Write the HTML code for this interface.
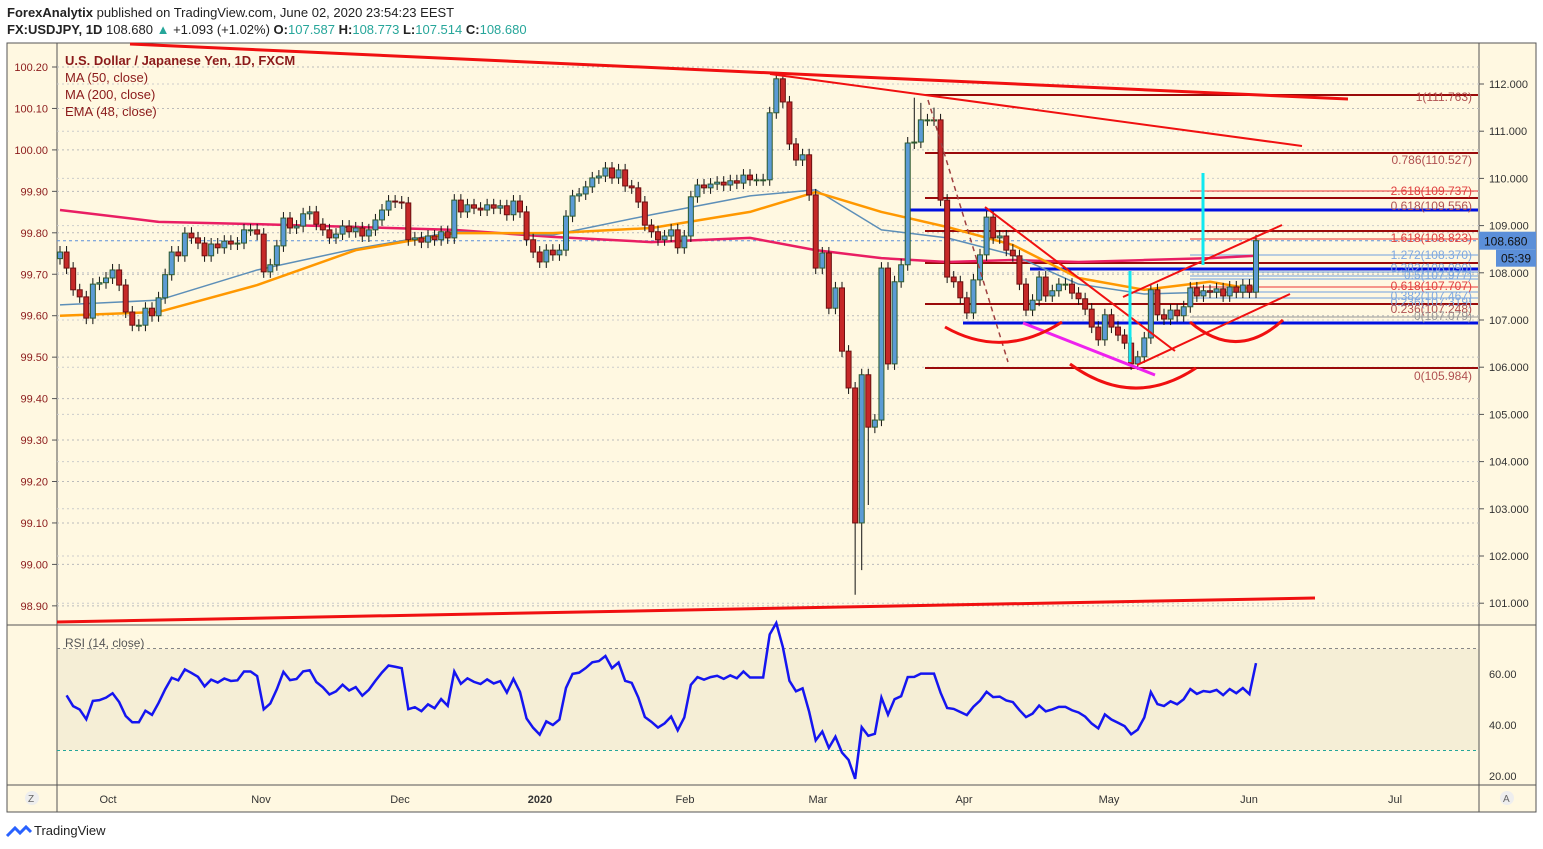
<!DOCTYPE html>
<html><head><meta charset="utf-8">
<style>
html,body{margin:0;padding:0;background:#fff;width:1543px;height:849px;overflow:hidden;font-family:"Liberation Sans",sans-serif;}
svg text{font-family:"Liberation Sans",sans-serif;}
</style></head>
<body>
<svg id="chart" width="1543" height="849" xmlns="http://www.w3.org/2000/svg">
<g>
<text x="7" y="17" font-size="13" fill="#222"><tspan font-weight="bold">ForexAnalytix</tspan> published on TradingView.com, June 02, 2020 23:54:23 EEST</text>
<text x="7" y="34" font-size="13" fill="#222"><tspan font-weight="bold">FX:USDJPY, 1D</tspan> 108.680 <tspan fill="#26a69a">▲</tspan> +1.093 (+1.02%) <tspan font-weight="bold">O:</tspan><tspan fill="#26a69a">107.587</tspan> <tspan font-weight="bold">H:</tspan><tspan fill="#26a69a">108.773</tspan> <tspan font-weight="bold">L:</tspan><tspan fill="#26a69a">107.514</tspan> <tspan font-weight="bold">C:</tspan><tspan fill="#26a69a">108.680</tspan></text>
</g>
<rect x="7" y="43" width="1529" height="769" fill="#fff8e1" stroke="#555" stroke-width="1"/>
<rect x="57" y="649" width="1422" height="101" fill="#f5eed6"/>
<line x1="57" y1="43" x2="57" y2="812" stroke="#555"/>
<line x1="1479" y1="43" x2="1479" y2="812" stroke="#555"/>
<line x1="7" y1="625" x2="1536" y2="625" stroke="#555"/>
<line x1="7" y1="785" x2="1536" y2="785" stroke="#555"/>
<g id="grid"></g>
<g id="annot-back"></g>
<g id="mas"></g>
<g id="candles"></g>
<g id="annot"></g>
<g id="axes"></g>
<g id="rsi"></g>
<g font-size="13" fill="#8b1a1a">
<text x="65" y="65" font-weight="bold">U.S. Dollar / Japanese Yen, 1D, FXCM</text>
<text x="65" y="82">MA (50, close)</text>
<text x="65" y="99">MA (200, close)</text>
<text x="65" y="116">EMA (48, close)</text>
<text x="65" y="647" font-size="12" fill="#555">RSI (14, close)</text>
</g>
<g>
<path d="M7 836 l8 -8 l5 5 l6 -6 l5 5" fill="none" stroke="#2962ff" stroke-width="3"/>
<text x="34" y="835" font-size="13" fill="#222">TradingView</text>
<circle cx="32" cy="798" r="7" fill="#eee"/><text x="28" y="802" font-size="10" fill="#666">Z</text>
<circle cx="1507" cy="798" r="7" fill="#eee"/><text x="1503" y="802" font-size="10" fill="#666">A</text>
</g>
</svg>
<script>
const closes=[108.44,108.10,107.64,107.49,107.04,107.76,107.79,107.89,108.06,107.74,107.17,106.89,106.89,107.25,107.09,107.47,107.96,108.44,108.36,108.84,108.74,108.63,108.36,108.61,108.53,108.67,108.61,108.63,108.91,108.91,108.82,
108.02,108.17,108.57,109.16,108.95,108.99,109.25,109.29,109.03,108.91,108.74,108.82,108.99,108.87,108.95,108.78,108.91,109.12,109.33,109.52,109.50,
109.48,108.70,108.74,108.65,108.78,108.70,108.87,108.74,109.54,109.29,109.44,109.37,109.33,109.44,109.37,109.42,109.23,109.52,109.29,108.70,108.44,
108.23,108.48,108.38,108.48,109.20,109.63,109.67,109.82,110.01,110.05,110.22,110.01,110.18,109.84,109.80,109.50,109.01,108.87,108.70,108.78,108.91,108.53,
108.78,109.61,109.86,109.80,109.88,109.92,109.86,109.95,109.90,110.07,109.97,109.97,109.97,111.39,112.11,111.62,110.73,110.39,110.50,109.65,108.10,
108.42,107.25,107.68,106.34,105.56,102.70,105.84,104.73,104.88,108.10,106.07,107.81,108.17,110.75,110.77,111.24,111.24,111.24,
109.54,107.91,107.81,107.47,107.15,107.85,108.38,109.18,108.74,108.78,108.48,108.36,107.76,107.21,107.42,107.91,107.51,107.62,107.76,107.76,107.57,107.45,107.23,106.85,106.58,107.11,106.85,106.68,106.51,106.07,106.22,106.62,107.64,107.11,107.02,107.21,107.09,107.28,107.68,107.51,107.62,107.59,107.66,107.51,107.70,107.59,107.74,107.59,108.68];
const firstOpen=108.30;
const wickIdx=[109,121,122,123,130,131,133];
const wickLow=[null,101.18,101.7,103.08,null,null,null];
const wickHigh=[112.23,null,null,null,111.71,111.6,111.5];
const maIdx=[0,15,30,45,60,75,90,105,115,125,135,145,155,165,175,182];
const sma50=[107.32,107.42,108.06,108.51,108.87,108.80,109.23,109.63,109.76,108.91,108.74,108.38,107.76,107.55,107.59,107.59];
const ema48=[107.09,107.17,107.74,108.48,108.84,108.84,108.95,109.29,109.71,109.29,108.97,108.59,107.89,107.64,107.81,107.64];
const ma200=[109.33,109.08,109.03,108.97,108.91,108.76,108.65,108.74,108.48,108.31,108.23,108.27,108.23,108.27,108.31,108.36];
const rightTicks=[112,111,110,109,108,107,106,105,104,103,102,101];
const leftTicks=["100.20","100.10","100.00","99.90","99.80","99.70","99.60","99.50","99.40","99.30","99.20","99.10","99.00","98.90"];
const monthLabels=["Oct","Nov","Dec","2020","Feb","Mar","Apr","May","Jun","Jul"];
const monthX=[108,261,400,540,685,818,964,1109,1249,1395];
const rsiTicks=[60,40,20];

const NS="http://www.w3.org/2000/svg";
function mk(tag,attrs,parent){const e=document.createElementNS(NS,tag);for(const k in attrs)e.setAttribute(k,attrs[k]);parent.appendChild(e);return e;}
const yP=p=>84+(112-p)*47.2;
const N=closes.length;
const step=(1256-60)/(N-1);
const xI=i=>60+i*step;
const yR=v=>674+(60-v)*2.55;

const grid=document.getElementById('grid');
const axes=document.getElementById('axes');
leftTicks.forEach((t,k)=>{const y=67+k*41.45;
 const g=mk('line',{x1:57,x2:1479,y1:y,y2:y,stroke:'#bbb','stroke-dasharray':'2,3'},grid);
 
 const tx=mk('text',{x:48,y:y+4,'font-size':11,fill:'#8b1a1a','text-anchor':'end'},axes);tx.textContent=t;
 
 mk('line',{x1:52,x2:57,y1:y,y2:y,stroke:'#555'},axes);
});
rightTicks.forEach(t=>{const y=yP(t);
 const g=mk('line',{x1:57,x2:1479,y1:y,y2:y,stroke:'#ccc','stroke-dasharray':'2,3'},grid);
 
 const tx=mk('text',{x:1489,y:y+4,'font-size':11,fill:'#333'},axes);tx.textContent=t.toFixed(3);
 
 mk('line',{x1:1479,x2:1484,y1:y,y2:y,stroke:'#555'},axes);
});
monthLabels.forEach((m,k)=>{const tx=mk('text',{x:monthX[k],y:803,'font-size':11,fill:'#333','text-anchor':'middle','font-weight':m==='2020'?'bold':'normal'},axes);tx.textContent=m;
 });
rsiTicks.forEach(t=>{const tx=mk('text',{x:1489,y:yR(t)+4,'font-size':11,fill:'#333'},axes);tx.textContent=t.toFixed(2);
 });
const lastY=yP(closes[N-1]);
mk('line',{x1:57,x2:1479,y1:lastY,y2:lastY,stroke:'#5b8fd9','stroke-dasharray':'3,3','stroke-width':1},grid);
const tag=mk('rect',{x:1479,y:lastY-9,width:57,height:18,fill:'#5b8fd9'},axes);

const tt=mk('text',{x:1484,y:lastY+5,'font-size':12,fill:'#111'},axes);tt.textContent=closes[N-1].toFixed(3);
mk('rect',{x:1496,y:lastY+9,width:40,height:17,fill:'#5b8fd9'},axes);
const ct=mk('text',{x:1501,y:lastY+22,'font-size':12,fill:'#111'},axes);ct.textContent='05:39';

const an=document.getElementById('annot');
const ab=document.getElementById('annot-back');
function ln(x1,y1,x2,y2,c,w,name,parent,dash){const l=mk('line',{x1,y1,x2,y2,stroke:c,'stroke-width':w},parent||an);if(dash)l.setAttribute('stroke-dasharray',dash);
 return l;}
const DR='#9a0a0a';
[[95,'fib-level-1'],[153,'fib-level-0786'],[198,'fib-level-0618'],[231,'fib-level-a'],[263,'fib-level-b'],[304,'fib-level-c'],[368,'fib-level-0']].forEach(a=>ln(925,a[0],1478,a[0],DR,2,a[1],ab));
[[191,'#e33'],[239,'#e33'],[255,'#6fa0e0'],[272,'#6fa0e0'],[276,'#6fa0e0'],[279,'#6fa0e0'],[287,'#e33'],[292,'#6fa0e0'],[298,'#6fa0e0'],[317,'#999']].forEach(a=>ln(1190,a[0],1478,a[0],a[1],1,'fib-thin-level',ab));
ln(910,210,1478,210,'#0010e0',3,'resistance-blue-line',ab);
ln(1030,269,1478,269,'#0010e0',3,'neckline-blue-line',ab);
ln(963,323,1478,323,'#0010e0',3,'support-blue-line',ab);
ln(130,44,1348,99,'#f01010',3,'upper-trendline');
ln(770,74,1302,146,'#f01010',2,'descending-trendline');
ln(57,622,1315,598,'#f01010',3,'lower-trendline');
ln(928,100,1008,362,'#a04040',1.5,'dashed-trendline',an,'5,4');
ln(985,207,1175,351,'#f01010',2,'wedge-upper-line');
ln(1123,297,1282,225,'#f01010',2,'channel-upper-line');
ln(1137,365,1290,294,'#f01010',2,'channel-lower-line');
ln(1023,323,1155,375,'#ee22ee',3,'magenta-line');
ln(1203,173,1203,265,'#10e8f0',3,'cyan-target-line');
ln(1130,271,1130,362,'#10e8f0',3,'cyan-measure-line');
[['M945 327 Q1003 360 1062 322','left-shoulder-arc'],['M1070 364 Q1133 410 1196 368','head-arc'],['M1190 322 Q1237 362 1283 320','right-shoulder-arc']].forEach(a=>{
 const p=mk('path',{d:a[0],fill:'none',stroke:'#f01010','stroke-width':3},an);});
[['1(111.763)',101,'#b05050'],['0.786(110.527)',164,'#b05050'],['2.618(109.737)',195,'#e04040'],['0.618(109.556)',210,'#b05050'],['1.618(108.823)',242,'#e04040'],['1.272(108.370)',259,'#7fa8e0'],['0.382(108.090)',272,'#7fa8e0'],['0.5(107.977)',279,'#7fa8e0'],['0.618(107.707)',290,'#e04040'],['0.382(107.467)',300,'#7fa8e0'],['0.236(107.319)',306,'#7fa8e0'],['0.236(107.248)',313,'#b05050'],['0(107.079)',320,'#999'],['0(105.984)',380,'#b05050']].forEach(a=>{
 const t=mk('text',{x:1472,y:a[1],'font-size':12,fill:a[2],'text-anchor':'end'},an);t.textContent=a[0];
 });

const mas=document.getElementById('mas');
function maLine(vals,col,w,name){const pts=maIdx.map((ix,k)=>xI(ix)+','+yP(vals[k])).join(' ');
 const p=mk('polyline',{points:pts,fill:'none',stroke:col,'stroke-width':w,'stroke-linejoin':'round'},mas);
 }
maLine(ma200,'#e91e63',2.5,'ma-200-line');
maLine(sma50,'#5d8fb8',1.5,'ma-50-line');
maLine(ema48,'#ff9800',2.5,'ema-48-line');

const cg=document.getElementById('candles');
closes.forEach((c,i)=>{const o=i===0?firstOpen:closes[i-1];const x=xI(i);
 const up=c>=o;const yt=yP(Math.max(o,c)),yb=yP(Math.min(o,c));
 let wt=yt-6,wb=yb+6;const k=wickIdx.indexOf(i);
 if(k>=0){if(wickHigh[k]!==null)wt=Math.min(wt,yP(wickHigh[k]));if(wickLow[k]!==null)wb=Math.max(wb,yP(wickLow[k]));}
 const w=mk('line',{x1:x,x2:x,y1:wt,y2:wb,stroke:'#111','stroke-width':1},cg);
 
 const r=mk('rect',{x:x-2.5,y:yt,width:5,height:Math.max(1,yb-yt),fill:up?'#5b9bd5':'#c62828',stroke:up?'#2e5a2e':'#6b1010','stroke-width':1},cg);
 
});

const rg=document.getElementById('rsi');
[[70,'#888'],[30,'#26a69a']].forEach(a=>{const l=mk('line',{x1:57,x2:1479,y1:yR(a[0]),y2:yR(a[0]),stroke:a[1],'stroke-dasharray':'3,3'},rg);
 });
let ag=0.22,al=0.18;const rsiPts=[];
for(let i=1;i<N;i++){const d=closes[i]-closes[i-1];const g=Math.max(d,0),lo=Math.max(-d,0);
 ag=(ag*13+g)/14;al=(al*13+lo)/14;
 const rsi=al===0?100:100-100/(1+ag/al);rsiPts.push(xI(i)+','+yR(Math.max(15,Math.min(85,rsi))));}
const rl=mk('polyline',{points:rsiPts.join(' '),fill:'none',stroke:'#1515f0','stroke-width':2.5},rg);

</script>
</body></html>
